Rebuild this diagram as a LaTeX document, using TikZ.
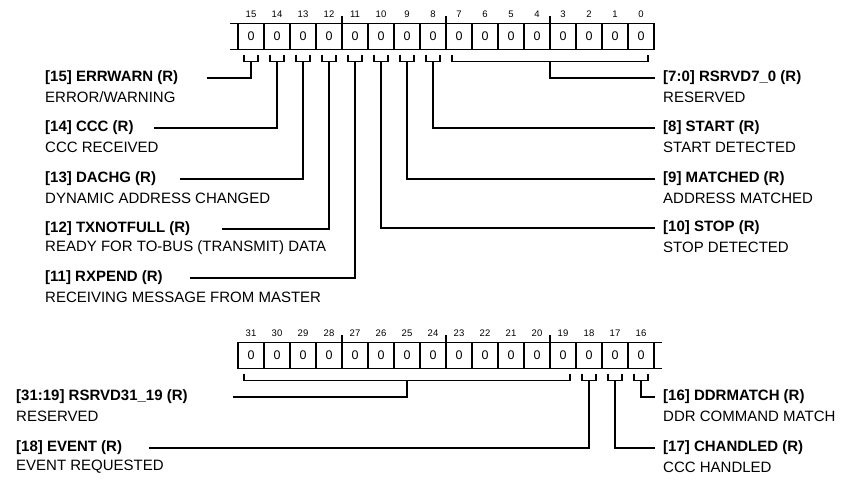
\documentclass[tikz,border=0pt]{standalone}
\usepackage{fontspec}
\setmainfont{Liberation Sans}
\usetikzlibrary{positioning, calc}

\begin{document}
\begin{tikzpicture}[
        x=1pt, y=-1pt,
        cell/.style={rectangle, draw, line width=1.9pt, minimum width=26pt, minimum height=26pt, inner sep=0pt, outer sep=0pt, font=\fontsize{12.5}{13}\selectfont},
        bitnum/.style={font=\fontsize{9.5}{10}\selectfont, inner sep=0pt},
        wire/.style={line width=1.9pt},
        field/.style={anchor=west, inner sep=0pt, font=\fontsize{15}{16}\selectfont\bfseries},
        desc/.style={anchor=west, inner sep=0pt, font=\fontsize{15}{16}\selectfont}
    ]
    \useasboundingbox (0,0) rectangle (845,479);

    % Register bits 15:0
    \foreach \k in {0,...,15} {
        \pgfmathtruncatemacro{\b}{15-\k}
        \node[cell] (r\b) at ({251+26*\k},36.5) {0};
        \node[bitnum, above=6pt of r\b] (n\b) {\b};
    }
    \draw[wire] (r15.north west) -- ++(-8,0) (r15.south west) -- ++(-8,0);
    \foreach \b in {12,8,4} \draw[wire] (r\b.north east) -- ++(0,-8);

    % Brackets
    \foreach \b in {15,...,8} {
        \draw[wire] ($(r\b.south)+(-7,5)$) -- ++(0,7) -- ++(14,0) -- ++(0,-7);
        \coordinate (s\b) at ($(r\b.south)+(0,12)$);
    }
    \draw[wire] ($(r7.south)+(-7,5)$) -- ++(0,7) -| ($(r0.south)+(7,5)$);
    \coordinate (s7) at ($(r4.south east)+(0,12)$);

    % Fields, left side
    \node[field] (t15) at (45,78) {[15] ERRWARN (R)};
    \node[desc] (d15) at ([yshift=-19pt]t15.west) {ERROR/WARNING};
    \node[field] (t14) at (45,128) {[14] CCC (R)};
    \node[desc] (d14) at ([yshift=-19pt]t14.west) {CCC RECEIVED};
    \node[field] (t13) at (45,179) {[13] DACHG (R)};
    \node[desc] (d13) at ([yshift=-19pt]t13.west) {DYNAMIC ADDRESS CHANGED};
    \node[field] (t12) at (45,229) {[12] TXNOTFULL (R)};
    \node[desc] (d12) at ([yshift=-19pt]t12.west) {READY FOR TO-BUS (TRANSMIT) DATA};
    \node[field] (t11) at (45,278) {[11] RXPEND (R)};
    \node[desc] (d11) at ([yshift=-19pt]t11.west) {RECEIVING MESSAGE FROM MASTER};
    \coordinate (e15) at (207,78);
    \coordinate (e14) at (154,128);
    \coordinate (e13) at (180,179);
    \coordinate (e12) at (222,229);
    \coordinate (e11) at (190,278);

    % Fields, right side
    \node[field] (t7) at (663,78) {[7:0] RSRVD7\_0 (R)};
    \node[desc] (d7) at ([yshift=-19pt]t7.west) {RESERVED};
    \node[field] (t8) at (663,128) {[8] START (R)};
    \node[desc] (d8) at ([yshift=-19pt]t8.west) {START DETECTED};
    \node[field] (t9) at (663,179) {[9] MATCHED (R)};
    \node[desc] (d9) at ([yshift=-19pt]t9.west) {ADDRESS MATCHED};
    \node[field] (t10) at (663,228) {[10] STOP (R)};
    \node[desc] (d10) at ([yshift=-19pt]t10.west) {STOP DETECTED};

    % Leaders
    \foreach \b in {15,14,13,12,11}
        \draw[wire] (s\b) |- (e\b);
    \foreach \b in {7,8,9,10}
        \draw[wire] (s\b) |- ([xshift=-8pt]t\b.west);

    % Register bits 31:16
    \foreach \k in {0,...,15} {
        \pgfmathtruncatemacro{\b}{31-\k}
        \node[cell] (r\b) at ({251+26*\k},355.5) {0};
        \node[bitnum, above=6pt of r\b] (n\b) {\b};
    }
    \draw[wire] (r16.north east) -- ++(8,0) (r16.south east) -- ++(8,0);
    \foreach \b in {28,24,20} \draw[wire] (r\b.north east) -- ++(0,-8);

    % Brackets
    \draw[wire] ($(r31.south)+(-7,5)$) -- ++(0,7) -| ($(r19.south)+(7,5)$);
    \coordinate (s31) at ($(r25.south)+(0,12)$);
    \foreach \b in {18,17,16} {
        \draw[wire] ($(r\b.south)+(-7,5)$) -- ++(0,7) -- ++(14,0) -- ++(0,-7);
        \coordinate (s\b) at ($(r\b.south)+(0,12)$);
    }

    % Fields
    \node[field] (t31) at (16,397) {[31:19] RSRVD31\_19 (R)};
    \node[desc] (d31) at ([yshift=-19pt]t31.west) {RESERVED};
    \node[field] (t18) at (16,448) {[18] EVENT (R)};
    \node[desc] (d18) at ([yshift=-19pt]t18.west) {EVENT REQUESTED};
    \node[field] (t16) at (663,397) {[16] DDRMATCH (R)};
    \node[desc] (d16) at ([yshift=-19pt]t16.west) {DDR COMMAND MATCH};
    \node[field] (t17) at (663,448) {[17] CHANDLED (R)};
    \node[desc] (d17) at ([yshift=-19pt]t17.west) {CCC HANDLED};
    \coordinate (e31) at (233,397);
    \coordinate (e18) at (149,448);

    % Leaders
    \foreach \b in {31,18}
        \draw[wire] (s\b) |- (e\b);
    \foreach \b in {16,17}
        \draw[wire] (s\b) |- ([xshift=-8pt]t\b.west);

\end{tikzpicture}
\end{document}
